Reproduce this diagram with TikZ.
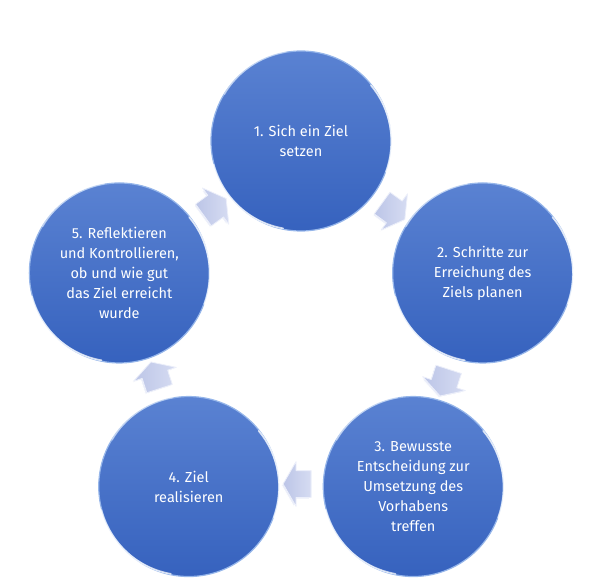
\documentclass[tikz,border=0pt]{standalone}
\usepackage{fontspec}
\setmainfont{Fira Sans}
\usetikzlibrary{shapes.arrows,shadows}
\definecolor{ztopblue}{RGB}{90,130,210}
\definecolor{zbotblue}{RGB}{54,98,190}
\definecolor{zrimblue}{RGB}{150,182,234}
\definecolor{zarrface}{RGB}{188,197,231}
\definecolor{zarrlite}{RGB}{214,220,242}
\definecolor{zarredge}{RGB}{236,239,250}

\begin{document}
\begin{tikzpicture}[x=1pt,y=1pt,line cap=round,line join=round,
  stage/.style={circle,minimum size=180pt,inner sep=0pt,top color=ztopblue,bottom color=zbotblue,
    draw=zrimblue,line width=1.2pt,text=white,align=center,font=\fontsize{14.5}{20}\selectfont},
  turn/.style={single arrow,minimum height=28pt,inner xsep=0pt,inner ysep=13pt,
    single arrow head extend=9pt,single arrow tip angle=120,left color=zarrface,right color=zarrlite,
    draw=zarredge,line width=0.8pt,copy shadow={shadow xshift=-1.5pt,shadow yshift=-1.5pt,fill=zarredge,draw=white}},
  glint/.style={white,opacity=0.75,line width=1.6pt}]
  \useasboundingbox (-301,-252) rectangle (299,332);

  % stages
  \node[stage] (c1) at (90:191) {1. Sich ein Ziel\\setzen};
  \node[stage] (c2) at (18:191) {2. Schritte zur\\Erreichung des\\Ziels planen};
  \node[stage] (c3) at (-54:191) {3. Bewusste\\Entscheidung zur\\Umsetzung des\\Vorhabens\\treffen};
  \node[stage] (c4) at (-126:191) {4. Ziel\\realisieren};
  \node[stage] (c5) at (162:191) {5. Reflektieren\\und Kontrollieren,\\ob und wie gut\\das Ziel erreicht\\wurde};

  % rim highlights
  \foreach \c in {c1,c2,c3,c4,c5} {
    \draw[glint] (\c.195) arc (195:260:88);
    \draw[glint] (\c.-20) arc (-20:40:88);
    \draw[glint,opacity=0.4] (\c.100) arc (100:150:88);
  }

  % arrows between stages
  \node[turn,rotate=-36] (a12) at (54:152) {};
  \node[turn,rotate=-108] (a23) at (-18:152) {};
  \node[turn,rotate=180] (a34) at (-90:152) {};
  \node[turn,rotate=108] (a45) at (-162:152) {};
  \node[turn,rotate=36] (a51) at (126:152) {};
\end{tikzpicture}
\end{document}
